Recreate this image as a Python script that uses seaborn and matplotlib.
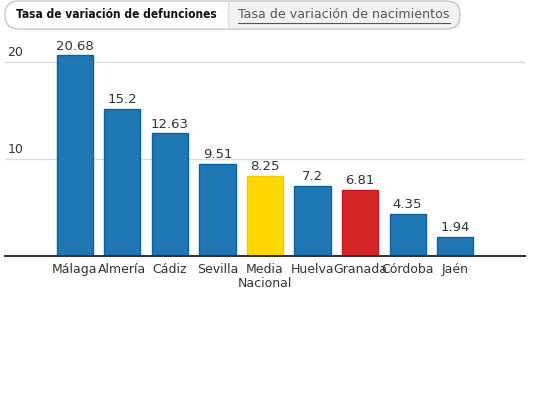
import matplotlib
matplotlib.use("Agg")
import matplotlib.pyplot as plt
import matplotlib.transforms as mtransforms
from matplotlib.patches import FancyBboxPatch, Rectangle
import seaborn as sns

provincias = ["Málaga", "Almería", "Cádiz", "Sevilla", "Media\nNacional",
              "Huelva", "Granada", "Córdoba", "Jaén"]
valores = [20.68, 15.2, 12.63, 9.51, 8.25, 7.2, 6.81, 4.35, 1.94]
etiquetas = ["20.68", "15.2", "12.63", "9.51", "8.25", "7.2", "6.81", "4.35", "1.94"]
colores = ["#1f77b4", "#1f77b4", "#1f77b4", "#1f77b4", "#ffd700",
           "#1f77b4", "#d62728", "#1f77b4", "#1f77b4"]
bordes = ["#0b62a0", "#0b62a0", "#0b62a0", "#0b62a0", "#f2c800",
          "#0b62a0", "#c4151c", "#0b62a0", "#0b62a0"]
yticks = [10, 20]
tabs = ["Tasa de variación de defunciones", "Tasa de variación de nacimientos"]

sns.set_style("white")
plt.rcParams["font.family"] = ["DejaVu Sans"]

W, H = 550, 400
fig = plt.figure(figsize=(5.5, 4), dpi=100)
ax = fig.add_axes([5 / W, 1 - 256 / H, 520 / W, 216 / H])

sns.barplot(x=provincias, y=valores, hue=provincias, palette=colores,
            legend=False, width=0.76, linewidth=1, saturation=1, ax=ax)
for patch, ec in zip(ax.patches, bordes):
    patch.set_edgecolor(ec)

ax.set_xlim(-1.47, 9.47)
ax.set_ylim(0, 22.27)

for i, (v, t) in enumerate(zip(valores, etiquetas)):
    ax.annotate(t, (i, v), xytext=(0, 2), textcoords="offset points",
                ha="center", va="bottom", fontsize=9.5, color="#333333")

# gridlines + y labels sitting above them
trans = mtransforms.blended_transform_factory(ax.transAxes, ax.transData)
for y in yticks:
    ax.axhline(y, color="#dddddd", lw=1, zorder=0)
    ax.text(0.005, y + 0.35, str(y), transform=trans, fontsize=9,
            color="#333333", ha="left", va="bottom")

ax.set_yticks([])
ax.set_xticks(range(len(provincias)))
ax.set_xticklabels(provincias, fontsize=9, color="#333333", linespacing=1.1)
ax.tick_params(axis="x", length=0, pad=5)
for s in ["top", "right", "left"]:
    ax.spines[s].set_visible(False)
ax.spines["bottom"].set_color("#333333")
ax.spines["bottom"].set_linewidth(1.5)
ax.set_xlabel("")
ax.set_ylabel("")

# tab bar at the top
ftr = fig.transFigure
def fx(px):
    return px / W
def fy(py):
    return 1 - py / H

fig.patches.append(Rectangle((fx(228), fy(29)), fx(460) - fx(228), (29 - 1) / H,
                             transform=ftr, facecolor="#f2f2f2", edgecolor="none"))
fig.patches.append(FancyBboxPatch((fx(5), fy(29)), fx(460) - fx(5), (29 - 1) / H,
                                  boxstyle="round,pad=0,rounding_size=0.025",
                                  mutation_aspect=W / H,
                                  transform=ftr, facecolor="none",
                                  edgecolor="#c8c8c8", lw=1))
fig.add_artist(plt.Line2D([fx(228), fx(228)], [fy(29), fy(1)], transform=ftr,
                          color="#dddddd", lw=1))
t1 = fig.text(fx(16), fy(15), tabs[0], fontsize=8.6, fontweight="bold",
              fontstretch="condensed", color="#111111", ha="left", va="center")
t2 = fig.text(fx(238), fy(15), tabs[1], fontsize=9.1, color="#555555",
              ha="left", va="center")
fig.canvas.draw()
# shrink the bold tab text if the condensed face is not available
b1 = t1.get_window_extent()
if b1.width > 205:
    t1.set_fontsize(8.6 * 202 / b1.width)
bb = t2.get_window_extent()
fig.add_artist(plt.Line2D([bb.x0 / W, bb.x1 / W], [fy(23), fy(23)], transform=ftr,
                          color="#555555", lw=0.8))

fig.savefig("out.png", dpi=100)
